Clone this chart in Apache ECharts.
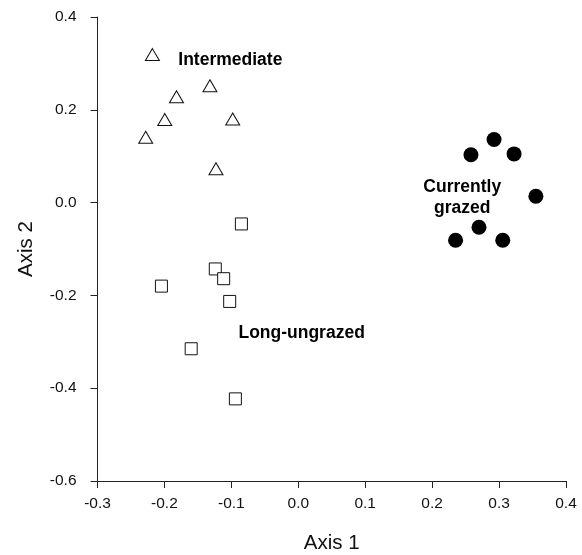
<!DOCTYPE html>
<html><head><meta charset="utf-8">
<script src="https://cdn.jsdelivr.net/npm/echarts@6/dist/echarts.min.js"></script>
<style>html,body{margin:0;padding:0;background:#fff}#c{width:582px;height:555px}</style>
</head><body><div id="c"></div>
<script>
const intermediate = [[-0.218,0.319],[-0.182,0.228],[-0.132,0.252],[-0.1995,0.179],[-0.098,0.180],[-0.228,0.141],[-0.123,0.073]];
const longUngrazed = [[-0.085,-0.046],[-0.124,-0.143],[-0.1115,-0.164],[-0.2045,-0.180],[-0.1025,-0.213],[-0.160,-0.315],[-0.094,-0.423]];
const currentlyGrazed = [[0.2925,0.136],[0.258,0.103],[0.3224,0.105],[0.355,0.0136],[0.270,-0.053],[0.235,-0.081],[0.3055,-0.081]];
const annotations = [
  {text:'Intermediate', x:-0.1015, y:0.3067},
  {text:'Long-ungrazed', x:0.005, y:-0.281},
  {text:'Currently\ngrazed', x:0.245, y:0.011}
];
const xTicks = {min:-0.3, max:0.4, interval:0.1};
const yTicks = {min:-0.6, max:0.4, interval:0.2};
const FONT = '"Liberation Sans", Arial, sans-serif';
const chart = echarts.init(document.getElementById('c'));
const axisCommon = {
  axisLine:{show:true, onZero:false, lineStyle:{color:'#222', width:1}},
  axisTick:{show:true, inside:false, length:7, lineStyle:{color:'#222', width:1}},
  splitLine:{show:false},
  nameLocation:'middle',
  nameTextStyle:{fontFamily:FONT, fontSize:20.5, color:'#111'}
};
chart.setOption({
  animation:false,
  grid:{left:97.5, right:16, top:17, bottom:74, containLabel:false, outerBoundsMode:'none'},
  xAxis:Object.assign({}, axisCommon, {type:'value', min:xTicks.min, max:xTicks.max, interval:xTicks.interval,
    name:'Axis 1', nameGap:52,
    axisLabel:{fontFamily:FONT, fontSize:15.5, color:'#111', margin:15, formatter:v=>v.toFixed(1)}}),
  yAxis:Object.assign({}, axisCommon, {type:'value', min:yTicks.min, max:yTicks.max, interval:yTicks.interval,
    name:'Axis 2', nameGap:61,
    axisLabel:{fontFamily:FONT, fontSize:15.5, color:'#111', margin:21, formatter:v=>v.toFixed(1)}}),
  series:[
    {type:'scatter', data:intermediate, symbol:'triangle', symbolSize:[14,12],
     itemStyle:{color:'#fff', borderColor:'#111', borderWidth:1, opacity:1}},
    {type:'scatter', data:longUngrazed, symbol:'rect', symbolSize:12,
     itemStyle:{color:'#fff', borderColor:'#111', borderWidth:1, opacity:1}},
    {type:'scatter', data:currentlyGrazed, symbol:'circle', symbolSize:15,
     itemStyle:{color:'#000', borderWidth:0, opacity:1}},
    {type:'scatter', symbolSize:0, silent:true, itemStyle:{opacity:1},
     data:annotations.map(a=>({value:[a.x,a.y], label:{formatter:a.text}})),
     label:{show:true, position:'inside', fontFamily:FONT, fontWeight:'bold', fontSize:17.5, color:'#000', opacity:1, lineHeight:21, align:'center', verticalAlign:'middle'}}
  ]
});
</script></body></html>
